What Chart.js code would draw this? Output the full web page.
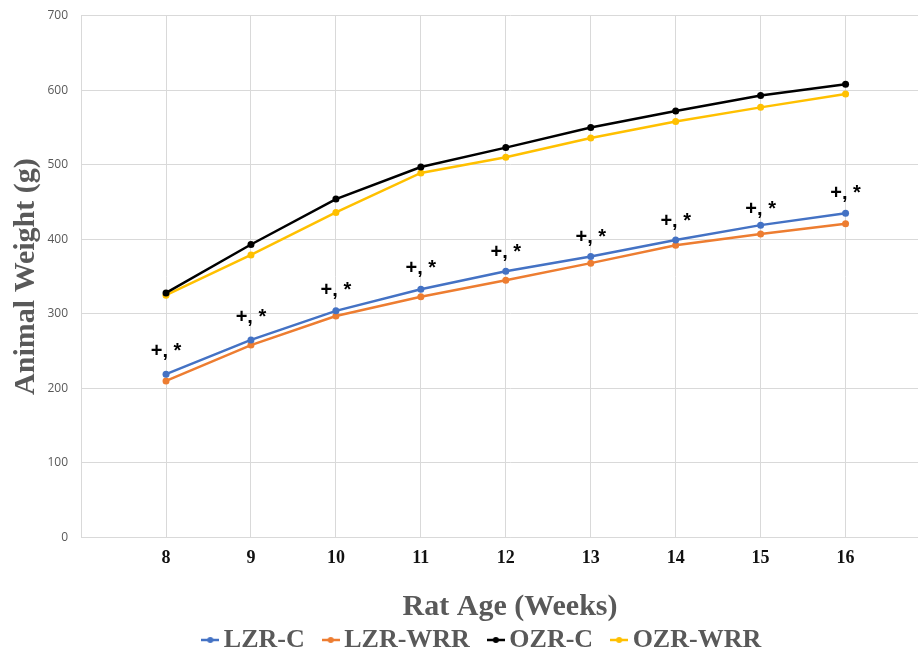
<!DOCTYPE html>
<html>
<head>
<meta charset="utf-8">
<script src="https://cdn.jsdelivr.net/npm/chart.js@4.4.1/dist/chart.umd.min.js"></script>
<style>
  html, body { margin: 0; padding: 0; background: #fff; overflow: hidden; }
  /* a bit wider than the window: the original plot area is cut off on the right */
  #wrap { width: 943px; height: 658px; }
</style>
</head>
<body>
<div id="wrap"><canvas id="weightChart"></canvas></div>
<script>
// Rat age in weeks
const weeks = [8, 9, 10, 11, 12, 13, 14, 15, 16];

// Animal weight (g) per group
const lzrC   = [219, 265, 304, 333, 357, 377, 399, 419, 435];
const lzrWrr = [210, 258, 297, 323, 345, 368, 392, 407, 421];
const ozrC   = [328, 393, 454, 497, 523, 550, 572, 593, 608];
const ozrWrr = [325, 379, 436, 489, 510, 536, 558, 577, 595];

// where the "+, *" significance marks sit (g, baseline)
const markY = [242, 288, 324, 353, 375, 395, 416, 432, 454];
const markText = '+, *';

const yTicks = [0, 100, 200, 300, 400, 500, 600, 700];

const GRID = '#d9d9d9';
const GREY = '#595959';
const SERIF = '"Liberation Serif", "Times New Roman", serif';

// little line-with-dot marker for the legend
function legendMarker(color) {
    const c = document.createElement('canvas');
    c.width = 18;
    c.height = 10;
    const g = c.getContext('2d');
    g.strokeStyle = color;
    g.lineWidth = 2.5;
    g.beginPath();
    g.moveTo(0, 5);
    g.lineTo(18, 5);
    g.stroke();
    g.fillStyle = color;
    g.beginPath();
    g.arc(9, 5, 3, 0, Math.PI * 2);
    g.fill();
    return c;
}

function series(label, values, color) {
    return {
        label: label,
        data: values.map((v, i) => ({ x: weeks[i], y: v })),
        borderColor: color,
        backgroundColor: color,
        borderWidth: 2.5,
        pointRadius: 3.5,
        pointBorderWidth: 0,
        pointBackgroundColor: color,
        tension: 0,
        fill: false,
        marker: legendMarker(color)
    };
}

const starLabels = {
    id: 'starLabels',
    afterDatasetsDraw(chart) {
        const { ctx, scales: { x, y } } = chart;
        ctx.save();
        ctx.font = 'bold 20px "Liberation Sans", Arial, sans-serif';
        ctx.fillStyle = '#000';
        ctx.textAlign = 'center';
        ctx.textBaseline = 'alphabetic';
        weeks.forEach((w, i) => {
            ctx.fillText(markText, x.getPixelForValue(w), y.getPixelForValue(markY[i]));
        });
        ctx.restore();
    }
};

const ctx = document.getElementById('weightChart').getContext('2d');
new Chart(ctx, {
    type: 'line',
    data: {
        datasets: [
            series('LZR-C', lzrC, '#4472c4'),
            series('LZR-WRR', lzrWrr, '#ed7d31'),
            series('OZR-C', ozrC, '#000000'),
            series('OZR-WRR', ozrWrr, '#ffc000')
        ]
    },
    options: {
        responsive: true,
        maintainAspectRatio: false,
        animation: false,
        // negative right padding only widens the legend box (nudges it right)
        layout: { padding: { left: 2, top: 4, right: -26, bottom: -5 } },
        scales: {
            x: {
                type: 'linear',
                min: 7,
                max: 17.1,
                afterBuildTicks: scale => {
                    scale.ticks = [7].concat(weeks).map(v => ({ value: v }));
                },
                grid: { color: GRID, lineWidth: 1, drawTicks: false },
                border: { color: GRID },
                ticks: {
                    padding: 10,
                    color: '#111',
                    font: { family: SERIF, size: 18, weight: 'bold' },
                    callback: v => (v === 7 ? '' : v)
                },
                title: {
                    display: true,
                    text: 'Rat Age (Weeks)',
                    color: GREY,
                    font: { family: SERIF, size: 30, weight: 'bold' },
                    padding: { top: 10, bottom: -23.5 }
                }
            },
            y: {
                min: 0,
                max: 700,
                afterBuildTicks: scale => {
                    scale.ticks = yTicks.map(v => ({ value: v }));
                },
                grid: { color: GRID, lineWidth: 1, tickLength: 4.5, tickColor: 'rgba(0,0,0,0)' },
                border: { color: GRID },
                ticks: {
                    padding: 8.5,
                    color: GREY,
                    font: { family: '"Open Sans", sans-serif', size: 12 }
                },
                title: {
                    display: true,
                    text: 'Animal Weight (g)',
                    color: GREY,
                    font: { family: SERIF, size: 30, weight: 'bold' },
                    padding: { top: 6, bottom: -5 }
                }
            }
        },
        plugins: {
            legend: {
                position: 'bottom',
                labels: {
                    usePointStyle: true,
                    pointStyleWidth: 1,
                    padding: 25.5,
                    color: GREY,
                    font: { family: SERIF, size: 26, weight: 'bold' },
                    generateLabels: chart => {
                        const items = Chart.defaults.plugins.legend.labels.generateLabels(chart);
                        items.forEach(item => {
                            item.pointStyle = chart.data.datasets[item.datasetIndex].marker;
                        });
                        return items;
                    }
                }
            },
            tooltip: { enabled: false }
        }
    },
    plugins: [starLabels]
});
</script>
</body>
</html>
